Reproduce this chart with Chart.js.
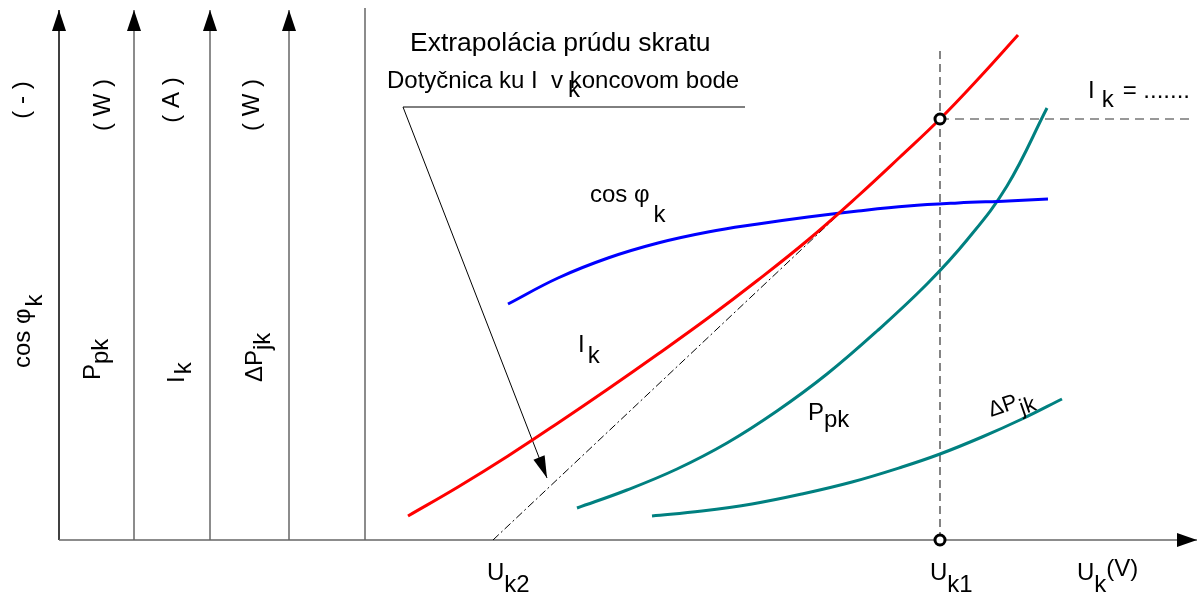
<!DOCTYPE html>
<html><head><meta charset="utf-8">
<script src="https://cdn.jsdelivr.net/npm/chart.js@4.4.0/dist/chart.umd.min.js"></script>
<style>html,body{margin:0;background:#fff}canvas{display:block}</style>
</head><body>
<canvas id="c" width="1199" height="595"></canvas>
<script>
// U_k measured from the origin, curve heights above the U_k axis (schematic units)
const ikU=[349,399,449,499,549,599,649,699,749,799,841,881,921,959];
const ikVal=[24,53,84,117,151,186,222,260,300,344,383,421,463,505];
const cosU=[449,499,549,599,649,699,749,799,849,899,949,989];
const cosVal=[236,262,282,297,308,316,323,329,334,337,339,341];
const ppkU=[518,568,618,668,718,768,818,868,908,948,988];
const ppkVal=[32,50,71,97,129,166,209,256,300,354,432];
const dpU=[593,643,693,743,793,843,881,923,963,1003];
const dpVal=[24,29,36,46,58,73,86,103,121,141];
const uk2=434, uk1=881, ik1=421;
const axisU=[0,75,151,230,306];
const axisTop=530, uEnd=1138;
const leaderU=[686,344,488], leaderVal=[433,433,62];

const pts=(xs,ys)=>xs.map((x,i)=>({x,y:ys[i]}));
const curve=(data,color)=>({data,showLine:true,borderColor:color,borderWidth:3,pointRadius:0,tension:0.4});
const line=(data,color,w,dash,head)=>({data,showLine:true,borderColor:color,borderWidth:w,borderDash:dash||[],pointRadius:0,tension:0,head});

const ds=[
  {data:[{x:uk1,y:ik1},{x:uk1,y:0}],showLine:false,pointRadius:5,borderWidth:3,borderColor:'#000',backgroundColor:'#fff'},
  curve(pts(ikU,ikVal),'#ff0000'),
  curve(pts(cosU,cosVal),'#0000ff'),
  curve(pts(ppkU,ppkVal),'#008080'),
  curve(pts(dpU,dpVal),'#008080'),
  line([{x:uk2,y:0},{x:uk1,y:ik1}],'#000',1,[8,3,2,3]),
  line([{x:uk1,y:0},{x:uk1,y:492}],'#333',1.2,[8,5]),
  line([{x:uk1,y:ik1},{x:1131,y:ik1}],'#333',1.2,[9,6]),
  line(pts(leaderU,leaderVal),'#000',1,[],[22,6]),
  line([{x:0,y:0},{x:uEnd,y:0}],'#666',1.5,[],[20,7])
];
axisU.forEach((u,i)=>{
  ds.push(line([{x:u,y:0},{x:u,y:i<4?axisTop:532}],i?'#666':'#000',1.5,[],i<4?[21,7]:null));
});

const notes=[
  {x:351,y:489,size:26.5,parts:[['Extrapolácia prúdu skratu',0]]},
  {x:328,y:452,size:24,parts:[['Dotyčnica ku I  v koncovom bode',0]]},
  {x:509,y:443,size:24,parts:[['k',0]]},
  {x:531,y:338,parts:[['cos φ',0],['k',20,4]]},
  {x:519,y:188,parts:[['I',0],['k',11,3]]},
  {x:749,y:120,parts:[['P',0],['pk',7,0]]},
  {x:932,y:123,rot:-0.33,size:22,parts:[['ΔP',0],['jk',8,1]]},
  {x:1029,y:442,parts:[['I',0],['k',9,7],['= .......',0,9]]},
  {x:428,y:-40,parts:[['U',0],['k2',12,0]]},
  {x:871,y:-40,parts:[['U',0],['k1',12,0]]},
  {x:1018,y:-40,parts:[['U',0],['k',12,0],['(V)',-4,0]]},
  {x:-37,y:440,rot:-Math.PI/2,center:true,parts:[['( - )',0]]},
  {x:44,y:435,rot:-Math.PI/2,center:true,parts:[['( W )',0]]},
  {x:113,y:440,rot:-Math.PI/2,center:true,parts:[['( A )',0]]},
  {x:193,y:435,rot:-Math.PI/2,center:true,parts:[['( W )',0]]},
  {x:-29,y:172,rot:-Math.PI/2,parts:[['cos φ',0],['k',12,2]]},
  {x:41,y:160,rot:-Math.PI/2,parts:[['P',0],['pk',8,0]]},
  {x:125,y:157,rot:-Math.PI/2,parts:[['I',0],['k',7,2]]},
  {x:203,y:158,rot:-Math.PI/2,parts:[['ΔP',0],['jk',8,0]]}
];

const extras={
  id:'extras',
  afterDatasetsDraw(chart){
    const ctx=chart.ctx, xs=chart.scales.x, ys=chart.scales.y;
    ctx.save();
    chart.data.datasets.forEach(d=>{
      if(!d.head)return;
      const n=d.data.length, a=d.data[n-2], b=d.data[n-1];
      const x1=xs.getPixelForValue(a.x), y1=ys.getPixelForValue(a.y);
      const x2=xs.getPixelForValue(b.x), y2=ys.getPixelForValue(b.y);
      const ang=Math.atan2(y2-y1,x2-x1), [L,W]=d.head;
      ctx.fillStyle='#000';
      ctx.beginPath();
      ctx.moveTo(x2,y2);
      ctx.lineTo(x2-L*Math.cos(ang)+W*Math.sin(ang),y2-L*Math.sin(ang)-W*Math.cos(ang));
      ctx.lineTo(x2-L*Math.cos(ang)-W*Math.sin(ang),y2-L*Math.sin(ang)+W*Math.cos(ang));
      ctx.closePath();ctx.fill();
    });
    ctx.fillStyle='#000';
    notes.forEach(n=>{
      ctx.save();
      ctx.font=(n.size||24)+'px "Liberation Sans", Arial, sans-serif';
      ctx.translate(xs.getPixelForValue(n.x),ys.getPixelForValue(n.y));
      if(n.rot)ctx.rotate(n.rot);
      if(n.center){ctx.textAlign='center';ctx.textBaseline='middle';ctx.fillText(n.parts[0][0],0,0);ctx.restore();return;}
      ctx.textBaseline='alphabetic';
      let cx=0;
      n.parts.forEach(([t,dy,gap])=>{cx+=gap||0;ctx.fillText(t,cx,dy);cx+=ctx.measureText(t).width;});
      ctx.restore();
    });
    ctx.restore();
  }
};

new Chart(document.getElementById('c'),{
  type:'scatter',
  data:{datasets:ds},
  options:{
    responsive:false,animation:false,devicePixelRatio:1,
    layout:{padding:0,autoPadding:false},
    plugins:{legend:{display:false},tooltip:{enabled:false}},
    scales:{
      x:{type:'linear',min:-59,max:1140,display:false},
      y:{type:'linear',min:-55,max:540,display:false}
    }
  },
  plugins:[extras]
});
</script>
</body></html>
